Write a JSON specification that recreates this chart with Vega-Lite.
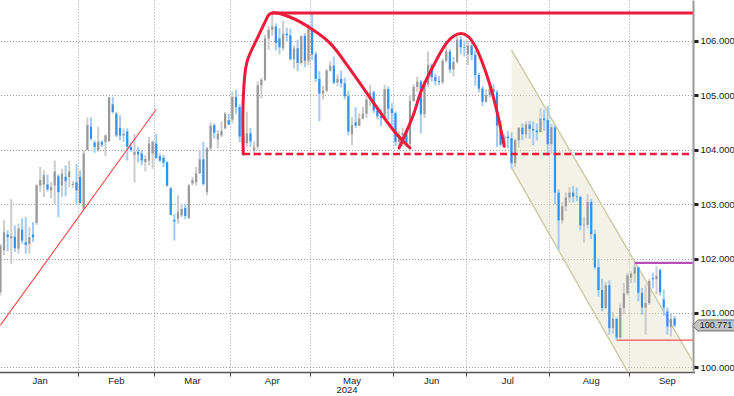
{
  "$schema": "https://vega.github.io/schema/vega-lite/v6.json",
  "width": 693,
  "height": 372,
  "padding": {"left": 0, "top": 0, "right": 41, "bottom": 24},
  "autosize": {"type": "none"},
  "background": "white",
  "config": {"view": {"stroke": null}, "font": "Liberation Sans"},
  "datasets": {
    "ohlc": [
      {"date":"2024-01-02","open":101.38,"high":102.27,"low":101.32,"close":102.24},
      {"date":"2024-01-03","open":102.15,"high":102.70,"low":102.06,"close":102.48},
      {"date":"2024-01-04","open":102.44,"high":102.52,"low":102.13,"close":102.39},
      {"date":"2024-01-05","open":102.37,"high":103.09,"low":101.90,"close":102.41},
      {"date":"2024-01-08","open":102.40,"high":102.61,"low":102.12,"close":102.19},
      {"date":"2024-01-09","open":102.18,"high":102.64,"low":102.09,"close":102.55},
      {"date":"2024-01-10","open":102.53,"high":102.74,"low":102.27,"close":102.33},
      {"date":"2024-01-11","open":102.30,"high":102.76,"low":102.09,"close":102.25},
      {"date":"2024-01-12","open":102.27,"high":102.58,"low":102.09,"close":102.39},
      {"date":"2024-01-15","open":102.44,"high":102.67,"low":102.30,"close":102.39},
      {"date":"2024-01-16","open":102.65,"high":103.37,"low":102.62,"close":103.34},
      {"date":"2024-01-17","open":103.34,"high":103.68,"low":103.22,"close":103.44},
      {"date":"2024-01-18","open":103.36,"high":103.62,"low":103.13,"close":103.53},
      {"date":"2024-01-19","open":103.36,"high":103.54,"low":103.23,"close":103.27},
      {"date":"2024-01-22","open":103.25,"high":103.40,"low":103.10,"close":103.31},
      {"date":"2024-01-23","open":103.34,"high":103.80,"low":102.99,"close":103.60},
      {"date":"2024-01-24","open":103.51,"high":103.55,"low":102.76,"close":103.22},
      {"date":"2024-01-25","open":103.34,"high":103.65,"low":103.13,"close":103.56},
      {"date":"2024-01-26","open":103.50,"high":103.71,"low":103.14,"close":103.42},
      {"date":"2024-01-29","open":103.50,"high":103.80,"low":103.31,"close":103.60},
      {"date":"2024-01-30","open":103.35,"high":103.42,"low":103.30,"close":103.37},
      {"date":"2024-01-31","open":103.40,"high":103.74,"low":102.98,"close":103.25},
      {"date":"2024-02-01","open":103.50,"high":103.62,"low":103.01,"close":103.02},
      {"date":"2024-02-02","open":102.91,"high":103.99,"low":102.90,"close":103.93},
      {"date":"2024-02-05","open":103.99,"high":104.59,"low":103.99,"close":104.45},
      {"date":"2024-02-06","open":104.42,"high":104.59,"low":104.17,"close":104.20},
      {"date":"2024-02-07","open":104.13,"high":104.17,"low":103.94,"close":104.05},
      {"date":"2024-02-08","open":103.99,"high":104.42,"low":103.96,"close":104.15},
      {"date":"2024-02-09","open":104.14,"high":104.17,"low":104.05,"close":104.09},
      {"date":"2024-02-12","open":104.14,"high":104.28,"low":103.88,"close":104.26},
      {"date":"2024-02-13","open":104.15,"high":104.97,"low":104.15,"close":104.96},
      {"date":"2024-02-14","open":104.83,"high":104.97,"low":104.66,"close":104.69},
      {"date":"2024-02-15","open":104.66,"high":104.69,"low":104.23,"close":104.26},
      {"date":"2024-02-16","open":104.40,"high":104.63,"low":104.17,"close":104.26},
      {"date":"2024-02-19","open":104.26,"high":104.39,"low":104.14,"close":104.29},
      {"date":"2024-02-20","open":104.33,"high":104.39,"low":103.80,"close":104.05},
      {"date":"2024-02-21","open":104.05,"high":104.14,"low":103.96,"close":103.99},
      {"date":"2024-02-22","open":103.90,"high":104.29,"low":103.40,"close":103.96},
      {"date":"2024-02-23","open":103.96,"high":104.05,"low":103.77,"close":103.91},
      {"date":"2024-02-26","open":103.93,"high":103.99,"low":103.71,"close":103.80},
      {"date":"2024-02-27","open":103.77,"high":103.90,"low":103.60,"close":103.83},
      {"date":"2024-02-28","open":103.80,"high":104.23,"low":103.71,"close":104.11},
      {"date":"2024-02-29","open":103.93,"high":104.17,"low":103.65,"close":104.14},
      {"date":"2024-03-01","open":104.11,"high":104.29,"low":103.83,"close":103.85},
      {"date":"2024-03-04","open":103.88,"high":103.93,"low":103.77,"close":103.80},
      {"date":"2024-03-05","open":103.85,"high":103.90,"low":103.68,"close":103.76},
      {"date":"2024-03-06","open":103.77,"high":103.78,"low":103.32,"close":103.34},
      {"date":"2024-03-07","open":103.29,"high":103.31,"low":102.79,"close":102.80},
      {"date":"2024-03-08","open":102.71,"high":102.82,"low":102.33,"close":102.68},
      {"date":"2024-03-11","open":102.73,"high":103.16,"low":102.64,"close":102.85},
      {"date":"2024-03-12","open":102.79,"high":103.01,"low":102.76,"close":102.91},
      {"date":"2024-03-13","open":102.93,"high":103.01,"low":102.72,"close":102.78},
      {"date":"2024-03-14","open":102.74,"high":103.37,"low":102.73,"close":103.34},
      {"date":"2024-03-15","open":103.38,"high":103.50,"low":103.34,"close":103.44},
      {"date":"2024-03-18","open":103.40,"high":103.68,"low":103.34,"close":103.56},
      {"date":"2024-03-19","open":103.56,"high":103.99,"low":103.56,"close":103.82},
      {"date":"2024-03-20","open":103.82,"high":104.14,"low":103.34,"close":103.37},
      {"date":"2024-03-21","open":103.22,"high":104.05,"low":103.16,"close":104.02},
      {"date":"2024-03-22","open":104.02,"high":104.50,"low":103.99,"close":104.44},
      {"date":"2024-03-25","open":104.45,"high":104.48,"low":104.20,"close":104.31},
      {"date":"2024-03-26","open":104.19,"high":104.36,"low":104.02,"close":104.29},
      {"date":"2024-03-27","open":104.26,"high":104.52,"low":104.23,"close":104.34},
      {"date":"2024-03-28","open":104.39,"high":104.69,"low":104.37,"close":104.66},
      {"date":"2024-03-29","open":104.54,"high":104.66,"low":104.45,"close":104.46},
      {"date":"2024-04-01","open":104.55,"high":105.07,"low":104.48,"close":104.97},
      {"date":"2024-04-02","open":104.97,"high":105.10,"low":104.65,"close":104.78},
      {"date":"2024-04-03","open":104.78,"high":104.83,"low":104.14,"close":104.24},
      {"date":"2024-04-04","open":104.24,"high":104.37,"low":103.89,"close":104.12},
      {"date":"2024-04-05","open":104.12,"high":104.69,"low":104.05,"close":104.30},
      {"date":"2024-04-08","open":104.30,"high":104.40,"low":104.05,"close":104.15},
      {"date":"2024-04-09","open":103.98,"high":104.15,"low":103.88,"close":104.04},
      {"date":"2024-04-10","open":104.05,"high":105.25,"low":104.00,"close":105.18},
      {"date":"2024-04-11","open":105.18,"high":105.32,"low":104.94,"close":105.28},
      {"date":"2024-04-12","open":105.28,"high":106.11,"low":105.26,"close":106.04},
      {"date":"2024-04-15","open":106.04,"high":106.27,"low":105.83,"close":106.20},
      {"date":"2024-04-16","open":106.20,"high":106.52,"low":106.09,"close":106.26},
      {"date":"2024-04-17","open":106.26,"high":106.32,"low":105.82,"close":105.96},
      {"date":"2024-04-18","open":106.04,"high":106.23,"low":105.75,"close":105.88},
      {"date":"2024-04-19","open":105.86,"high":106.37,"low":105.82,"close":106.13},
      {"date":"2024-04-22","open":106.13,"high":106.24,"low":105.98,"close":106.10},
      {"date":"2024-04-23","open":106.10,"high":106.22,"low":105.64,"close":105.66},
      {"date":"2024-04-24","open":105.66,"high":105.91,"low":105.49,"close":105.86},
      {"date":"2024-04-25","open":105.86,"high":106.02,"low":105.44,"close":105.59},
      {"date":"2024-04-26","open":105.59,"high":106.09,"low":105.56,"close":106.09},
      {"date":"2024-04-29","open":106.09,"high":106.14,"low":105.51,"close":105.63},
      {"date":"2024-04-30","open":105.63,"high":106.31,"low":105.55,"close":106.22},
      {"date":"2024-05-01","open":106.22,"high":106.49,"low":105.64,"close":105.75},
      {"date":"2024-05-02","open":105.75,"high":105.80,"low":105.24,"close":105.30},
      {"date":"2024-05-03","open":105.30,"high":105.44,"low":104.52,"close":105.03},
      {"date":"2024-05-06","open":105.03,"high":105.17,"low":104.92,"close":105.08},
      {"date":"2024-05-07","open":105.08,"high":105.48,"low":105.05,"close":105.45},
      {"date":"2024-05-08","open":105.45,"high":105.62,"low":105.43,"close":105.54},
      {"date":"2024-05-09","open":105.54,"high":105.71,"low":105.20,"close":105.23},
      {"date":"2024-05-10","open":105.23,"high":105.38,"low":105.16,"close":105.30},
      {"date":"2024-05-13","open":105.30,"high":105.45,"low":105.14,"close":105.22},
      {"date":"2024-05-14","open":105.22,"high":105.32,"low":104.92,"close":104.98},
      {"date":"2024-05-15","open":104.98,"high":105.08,"low":104.26,"close":104.33},
      {"date":"2024-05-16","open":104.28,"high":104.60,"low":104.08,"close":104.45},
      {"date":"2024-05-17","open":104.50,"high":104.78,"low":104.40,"close":104.44},
      {"date":"2024-05-20","open":104.44,"high":104.67,"low":104.43,"close":104.57},
      {"date":"2024-05-21","open":104.57,"high":104.79,"low":104.55,"close":104.66},
      {"date":"2024-05-22","open":104.66,"high":105.00,"low":104.58,"close":104.92},
      {"date":"2024-05-23","open":104.92,"high":105.19,"low":104.80,"close":105.05},
      {"date":"2024-05-24","open":105.05,"high":105.08,"low":104.67,"close":104.72},
      {"date":"2024-05-27","open":104.72,"high":104.79,"low":104.56,"close":104.61},
      {"date":"2024-05-28","open":104.61,"high":104.75,"low":104.43,"close":104.58},
      {"date":"2024-05-29","open":104.58,"high":105.19,"low":104.55,"close":105.11},
      {"date":"2024-05-30","open":105.11,"high":105.16,"low":104.55,"close":104.75},
      {"date":"2024-05-31","open":104.75,"high":104.85,"low":104.40,"close":104.67},
      {"date":"2024-06-03","open":104.67,"high":104.70,"low":104.06,"close":104.14},
      {"date":"2024-06-04","open":104.14,"high":104.33,"low":103.99,"close":104.26},
      {"date":"2024-06-05","open":104.26,"high":104.40,"low":104.05,"close":104.30},
      {"date":"2024-06-06","open":104.30,"high":104.35,"low":104.05,"close":104.10},
      {"date":"2024-06-07","open":104.10,"high":105.00,"low":104.03,"close":104.89},
      {"date":"2024-06-10","open":104.89,"high":105.20,"low":104.88,"close":105.15},
      {"date":"2024-06-11","open":105.15,"high":105.34,"low":105.06,"close":105.25},
      {"date":"2024-06-12","open":105.25,"high":105.28,"low":104.30,"close":104.65},
      {"date":"2024-06-13","open":104.65,"high":105.25,"low":104.58,"close":105.20},
      {"date":"2024-06-14","open":105.20,"high":105.80,"low":105.15,"close":105.55},
      {"date":"2024-06-17","open":105.55,"high":105.58,"low":105.25,"close":105.33},
      {"date":"2024-06-18","open":105.33,"high":105.40,"low":105.18,"close":105.26},
      {"date":"2024-06-19","open":105.26,"high":105.35,"low":105.18,"close":105.24},
      {"date":"2024-06-20","open":105.24,"high":105.67,"low":105.20,"close":105.63},
      {"date":"2024-06-21","open":105.63,"high":105.91,"low":105.60,"close":105.80},
      {"date":"2024-06-24","open":105.80,"high":105.85,"low":105.41,"close":105.47},
      {"date":"2024-06-25","open":105.47,"high":105.70,"low":105.35,"close":105.61},
      {"date":"2024-06-26","open":105.61,"high":106.13,"low":105.58,"close":106.02},
      {"date":"2024-06-27","open":106.02,"high":106.08,"low":105.75,"close":105.88},
      {"date":"2024-06-28","open":105.88,"high":106.00,"low":105.71,"close":105.87},
      {"date":"2024-07-01","open":105.75,"high":106.00,"low":105.55,"close":105.91},
      {"date":"2024-07-02","open":105.91,"high":106.00,"low":105.64,"close":105.74},
      {"date":"2024-07-03","open":105.74,"high":105.82,"low":105.17,"close":105.37},
      {"date":"2024-07-04","open":105.37,"high":105.41,"low":105.05,"close":105.12},
      {"date":"2024-07-05","open":105.12,"high":105.17,"low":104.80,"close":104.88},
      {"date":"2024-07-08","open":104.88,"high":105.11,"low":104.86,"close":105.00},
      {"date":"2024-07-09","open":105.00,"high":105.19,"low":104.95,"close":105.11},
      {"date":"2024-07-10","open":105.11,"high":105.20,"low":104.99,"close":105.05},
      {"date":"2024-07-11","open":105.05,"high":105.09,"low":104.05,"close":104.44},
      {"date":"2024-07-12","open":104.44,"high":104.55,"low":104.06,"close":104.09},
      {"date":"2024-07-15","open":104.09,"high":104.29,"low":104.06,"close":104.24},
      {"date":"2024-07-16","open":104.24,"high":104.34,"low":104.02,"close":104.21},
      {"date":"2024-07-17","open":104.21,"high":104.32,"low":103.65,"close":103.75},
      {"date":"2024-07-18","open":103.75,"high":104.20,"low":103.68,"close":104.17},
      {"date":"2024-07-19","open":104.17,"high":104.41,"low":104.04,"close":104.40},
      {"date":"2024-07-22","open":104.40,"high":104.48,"low":104.17,"close":104.28},
      {"date":"2024-07-23","open":104.28,"high":104.52,"low":104.21,"close":104.46},
      {"date":"2024-07-24","open":104.46,"high":104.53,"low":104.20,"close":104.38},
      {"date":"2024-07-25","open":104.38,"high":104.52,"low":104.08,"close":104.35},
      {"date":"2024-07-26","open":104.35,"high":104.48,"low":104.17,"close":104.32},
      {"date":"2024-07-29","open":104.32,"high":104.76,"low":104.32,"close":104.57},
      {"date":"2024-07-30","open":104.57,"high":104.73,"low":104.34,"close":104.54},
      {"date":"2024-07-31","open":104.54,"high":104.80,"low":103.88,"close":104.10},
      {"date":"2024-08-01","open":104.10,"high":104.47,"low":103.92,"close":104.41},
      {"date":"2024-08-02","open":104.41,"high":104.45,"low":103.00,"close":103.21},
      {"date":"2024-08-05","open":103.21,"high":103.27,"low":102.16,"close":102.70},
      {"date":"2024-08-06","open":102.70,"high":103.04,"low":102.64,"close":102.96},
      {"date":"2024-08-07","open":102.96,"high":103.21,"low":102.87,"close":103.12},
      {"date":"2024-08-08","open":103.12,"high":103.31,"low":103.03,"close":103.21},
      {"date":"2024-08-09","open":103.21,"high":103.33,"low":103.03,"close":103.14},
      {"date":"2024-08-12","open":103.14,"high":103.30,"low":103.05,"close":103.13},
      {"date":"2024-08-13","open":103.13,"high":103.15,"low":102.52,"close":102.61},
      {"date":"2024-08-14","open":102.61,"high":102.77,"low":102.29,"close":102.62},
      {"date":"2024-08-15","open":102.62,"high":103.18,"low":102.55,"close":103.04},
      {"date":"2024-08-16","open":103.04,"high":103.10,"low":102.36,"close":102.45},
      {"date":"2024-08-19","open":102.45,"high":102.53,"low":101.80,"close":101.84},
      {"date":"2024-08-20","open":101.84,"high":102.00,"low":101.30,"close":101.42},
      {"date":"2024-08-21","open":101.42,"high":101.63,"low":101.03,"close":101.09},
      {"date":"2024-08-22","open":101.09,"high":101.57,"low":101.07,"close":101.51},
      {"date":"2024-08-23","open":101.51,"high":101.60,"low":100.60,"close":100.72},
      {"date":"2024-08-26","open":100.72,"high":101.02,"low":100.62,"close":100.89},
      {"date":"2024-08-27","open":100.89,"high":100.92,"low":100.51,"close":100.55},
      {"date":"2024-08-28","open":100.55,"high":101.17,"low":100.53,"close":101.09},
      {"date":"2024-08-29","open":101.09,"high":101.55,"low":100.98,"close":101.36},
      {"date":"2024-08-30","open":101.36,"high":101.74,"low":101.32,"close":101.69},
      {"date":"2024-09-02","open":101.65,"high":101.76,"low":101.55,"close":101.72},
      {"date":"2024-09-03","open":101.72,"high":101.92,"low":101.56,"close":101.84},
      {"date":"2024-09-04","open":101.84,"high":101.85,"low":101.21,"close":101.37},
      {"date":"2024-09-05","open":101.37,"high":101.46,"low":100.97,"close":101.10},
      {"date":"2024-09-06","open":101.10,"high":101.52,"low":100.60,"close":101.18},
      {"date":"2024-09-09","open":101.18,"high":101.62,"low":101.15,"close":101.59},
      {"date":"2024-09-10","open":101.64,"high":101.74,"low":101.45,"close":101.62},
      {"date":"2024-09-11","open":101.62,"high":101.86,"low":101.34,"close":101.68},
      {"date":"2024-09-12","open":101.79,"high":101.81,"low":101.32,"close":101.38},
      {"date":"2024-09-13","open":101.25,"high":101.43,"low":100.95,"close":101.10},
      {"date":"2024-09-16","open":101.03,"high":101.10,"low":100.60,"close":100.75},
      {"date":"2024-09-17","open":100.75,"high":101.00,"low":100.57,"close":100.89},
      {"date":"2024-09-18","open":100.90,"high":100.95,"low":100.74,"close":100.771}
    ],
    "channel": [
      {"date":"2024-07-17","hi":105.83,"lo":103.67},
      {"date":"2024-09-25","hi":100.11,"lo":97.82}
    ],
    "trend": [
      {"date":"2024-01-02","value":100.774},
      {"date":"2024-03-01","value":104.74}
    ],
    "hlines": [
      {"id":"top","date":"2024-04-16","value":106.51},
      {"id":"top","date":"2024-09-25","value":106.51},
      {"id":"dash","date":"2024-04-04","value":103.92},
      {"id":"dash","date":"2024-09-24","value":103.92},
      {"id":"purple","date":"2024-09-03","value":101.92},
      {"id":"purple","date":"2024-09-25","value":101.92},
      {"id":"low","date":"2024-08-27","value":100.50},
      {"id":"low","date":"2024-09-25","value":100.50}
    ],
    "cup": [
      {"date":"2024-04-04","value":103.92},
      {"date":"2024-04-04","value":104.91},
      {"date":"2024-04-05","value":105.60},
      {"date":"2024-04-10","value":106.06},
      {"date":"2024-04-12","value":106.34},
      {"date":"2024-04-15","value":106.47},
      {"date":"2024-04-16","value":106.51},
      {"date":"2024-04-23","value":106.43},
      {"date":"2024-05-01","value":106.21},
      {"date":"2024-05-08","value":105.95},
      {"date":"2024-05-15","value":105.52},
      {"date":"2024-05-23","value":104.95},
      {"date":"2024-06-03","value":104.31},
      {"date":"2024-06-07","value":104.03}
    ],
    "arc2": [
      {"date":"2024-06-04","value":104.03},
      {"date":"2024-06-10","value":104.65},
      {"date":"2024-06-12","value":105.06},
      {"date":"2024-06-17","value":105.48},
      {"date":"2024-06-21","value":105.95},
      {"date":"2024-06-25","value":106.08},
      {"date":"2024-06-27","value":106.13},
      {"date":"2024-07-01","value":106.08},
      {"date":"2024-07-03","value":105.90},
      {"date":"2024-07-05","value":105.59},
      {"date":"2024-07-09","value":105.20},
      {"date":"2024-07-11","value":104.70},
      {"date":"2024-07-15","value":104.06}
    ],
    "last": [
      {"date":"2024-09-25","value":100.771,"label":"100.771"}
    ]
  },
  "encoding": {
    "x": {
      "field": "date",
      "type": "ordinal",
      "scale": {
        "type": "band",
        "paddingInner": 0,
        "paddingOuter": 0,
        "range": [-1.45, 694.55],
        "domain": [
          "2024-01-02","2024-01-03","2024-01-04","2024-01-05","2024-01-08","2024-01-09","2024-01-10","2024-01-11","2024-01-12","2024-01-15","2024-01-16","2024-01-17","2024-01-18","2024-01-19","2024-01-22","2024-01-23","2024-01-24","2024-01-25","2024-01-26","2024-01-29","2024-01-30","2024-01-31",
          "2024-02-01","2024-02-02","2024-02-05","2024-02-06","2024-02-07","2024-02-08","2024-02-09","2024-02-12","2024-02-13","2024-02-14","2024-02-15","2024-02-16","2024-02-19","2024-02-20","2024-02-21","2024-02-22","2024-02-23","2024-02-26","2024-02-27","2024-02-28","2024-02-29",
          "2024-03-01","2024-03-04","2024-03-05","2024-03-06","2024-03-07","2024-03-08","2024-03-11","2024-03-12","2024-03-13","2024-03-14","2024-03-15","2024-03-18","2024-03-19","2024-03-20","2024-03-21","2024-03-22","2024-03-25","2024-03-26","2024-03-27","2024-03-28","2024-03-29",
          "2024-04-01","2024-04-02","2024-04-03","2024-04-04","2024-04-05","2024-04-08","2024-04-09","2024-04-10","2024-04-11","2024-04-12","2024-04-15","2024-04-16","2024-04-17","2024-04-18","2024-04-19","2024-04-22","2024-04-23","2024-04-24","2024-04-25","2024-04-26","2024-04-29","2024-04-30",
          "2024-05-01","2024-05-02","2024-05-03","2024-05-06","2024-05-07","2024-05-08","2024-05-09","2024-05-10","2024-05-13","2024-05-14","2024-05-15","2024-05-16","2024-05-17","2024-05-20","2024-05-21","2024-05-22","2024-05-23","2024-05-24","2024-05-27","2024-05-28","2024-05-29","2024-05-30","2024-05-31",
          "2024-06-03","2024-06-04","2024-06-05","2024-06-06","2024-06-07","2024-06-10","2024-06-11","2024-06-12","2024-06-13","2024-06-14","2024-06-17","2024-06-18","2024-06-19","2024-06-20","2024-06-21","2024-06-24","2024-06-25","2024-06-26","2024-06-27","2024-06-28",
          "2024-07-01","2024-07-02","2024-07-03","2024-07-04","2024-07-05","2024-07-08","2024-07-09","2024-07-10","2024-07-11","2024-07-12","2024-07-15","2024-07-16","2024-07-17","2024-07-18","2024-07-19","2024-07-22","2024-07-23","2024-07-24","2024-07-25","2024-07-26","2024-07-29","2024-07-30","2024-07-31",
          "2024-08-01","2024-08-02","2024-08-05","2024-08-06","2024-08-07","2024-08-08","2024-08-09","2024-08-12","2024-08-13","2024-08-14","2024-08-15","2024-08-16","2024-08-19","2024-08-20","2024-08-21","2024-08-22","2024-08-23","2024-08-26","2024-08-27","2024-08-28","2024-08-29","2024-08-30",
          "2024-09-02","2024-09-03","2024-09-04","2024-09-05","2024-09-06","2024-09-09","2024-09-10","2024-09-11","2024-09-12","2024-09-13","2024-09-16","2024-09-17","2024-09-18","2024-09-19","2024-09-20","2024-09-23","2024-09-24","2024-09-25"
        ]
      },
      "axis": {
        "values": ["2024-02-01","2024-03-01","2024-04-01","2024-05-01","2024-06-03","2024-07-01","2024-08-01","2024-09-02","2024-01-17","2024-02-15","2024-03-15","2024-04-16","2024-05-16","2024-06-17","2024-07-16","2024-08-16","2024-09-16"],
        "bandPosition": 0,
        "labelExpr": "indexof(['2024-02-01','2024-03-01','2024-04-01','2024-05-01','2024-06-03','2024-07-01','2024-08-01','2024-09-02'], datum.value) >= 0 ? '' : utcFormat(toDate(datum.value), '%b')",
        "labelAngle": 0,
        "labelOverlap": false,
        "labelFontSize": 9.5,
        "labelColor": "#222222",
        "labelPadding": -1,
        "grid": true,
        "gridDash": [1, 2],
        "gridColor": "#9a9a9a",
        "gridOpacity": {"condition": {"test": "indexof(['2024-02-01','2024-03-01','2024-04-01','2024-05-01','2024-06-03','2024-07-01','2024-08-01','2024-09-02'], datum.value) >= 0", "value": 1}, "value": 0},
        "ticks": true,
        "tickSize": 4,
        "tickColor": "#444444",
        "tickOpacity": {"condition": {"test": "indexof(['2024-02-01','2024-03-01','2024-04-01','2024-05-01','2024-06-03','2024-07-01','2024-08-01','2024-09-02'], datum.value) >= 0", "value": 1}, "value": 0},
        "domainColor": "#555555",
        "domainWidth": 1.5,
        "title": "2024",
        "titleFontSize": 9.5,
        "titleFontWeight": "normal",
        "titleColor": "#222222",
        "titlePadding": 0
      }
    }
  },
  "layer": [
    {
      "data": {"name": "channel"},
      "mark": {"type": "area", "color": "#e3e3c8", "opacity": 0.45, "clip": true},
      "encoding": {
        "y": {
          "field": "hi", "type": "quantitative",
          "scale": {"domain": [99.916, 106.747], "nice": false, "zero": false},
          "axis": {
            "orient": "right",
            "title": null,
            "values": [100, 100.5, 101, 101.5, 102, 102.5, 103, 103.5, 104, 104.5, 105, 105.5, 106, 106.5],
            "labelExpr": "datum.value % 1 === 0 ? format(datum.value, '.3f') : ''",
            "labelOverlap": false,
            "labelFontSize": 9.5,
            "labelColor": "#222222",
            "labelPadding": 2,
            "grid": true,
            "gridDash": [1, 2],
            "gridColor": "#9a9a9a",
            "gridOpacity": {"condition": {"test": "datum.value % 1 === 0", "value": 1}, "value": 0},
            "tickSize": 5,
            "tickColor": "#222222",
            "tickWidth": {"condition": {"test": "datum.value % 1 === 0", "value": 3}, "value": 1},
            "domainColor": "#9a9a9a",
            "domainWidth": 2
          }
        },
        "y2": {"field": "lo"}
      }
    },
    {
      "data": {"name": "channel"},
      "mark": {"type": "line", "color": "#c8c8a0", "strokeWidth": 1.3, "clip": true},
      "encoding": {
        "y": {"field": "hi", "type": "quantitative"}
      }
    },
    {
      "data": {"name": "channel"},
      "mark": {"type": "line", "color": "#c8c8a0", "strokeWidth": 1.3, "clip": true},
      "encoding": {
        "y": {"field": "lo", "type": "quantitative"}
      }
    },
    {
      "data": {"name": "ohlc"},
      "mark": {"type": "rule", "strokeWidth": 2},
      "encoding": {
        "y": {"field": "low", "type": "quantitative"},
        "y2": {"field": "high"},
        "color": {"condition": {"test": "datum.close >= datum.open", "value": "#cdcdcd"}, "value": "#a3cbf5"}
      }
    },
    {
      "data": {"name": "ohlc"},
      "mark": {"type": "bar", "width": {"band": 0.6}},
      "encoding": {
        "y": {"field": "open", "type": "quantitative"},
        "y2": {"field": "close"},
        "color": {"condition": {"test": "datum.close >= datum.open", "value": "#999999"}, "value": "#3391f0"}
      }
    },
    {
      "data": {"name": "trend"},
      "mark": {"type": "line", "color": "#ff4545", "strokeWidth": 1.1, "clip": true},
      "encoding": {
        "y": {"field": "value", "type": "quantitative"}
      }
    },
    {
      "data": {"name": "hlines"},
      "transform": [{"filter": "datum.id === 'dash'"}],
      "mark": {"type": "line", "color": "#ec1b3b", "strokeWidth": 2.6, "strokeDash": [7, 3.7]},
      "encoding": {
        "y": {"field": "value", "type": "quantitative"}
      }
    },
    {
      "data": {"name": "hlines"},
      "transform": [{"filter": "datum.id === 'top'"}],
      "mark": {"type": "line", "color": "#ec1b3b", "strokeWidth": 3},
      "encoding": {
        "y": {"field": "value", "type": "quantitative"}
      }
    },
    {
      "data": {"name": "hlines"},
      "transform": [{"filter": "datum.id === 'purple'"}],
      "mark": {"type": "line", "color": "#b84fb8", "strokeWidth": 2.4},
      "encoding": {
        "y": {"field": "value", "type": "quantitative"}
      }
    },
    {
      "data": {"name": "hlines"},
      "transform": [{"filter": "datum.id === 'low'"}],
      "mark": {"type": "line", "color": "#ff5050", "strokeWidth": 1.3},
      "encoding": {
        "y": {"field": "value", "type": "quantitative"}
      }
    },
    {
      "data": {"name": "cup"},
      "mark": {"type": "line", "color": "#ec1b3b", "strokeWidth": 3, "interpolate": "catmull-rom", "strokeCap": "round"},
      "encoding": {
        "y": {"field": "value", "type": "quantitative"},
        "order": {"value": null}
      }
    },
    {
      "data": {"name": "arc2"},
      "mark": {"type": "line", "color": "#ec1b3b", "strokeWidth": 3, "interpolate": "catmull-rom", "strokeCap": "round"},
      "encoding": {
        "y": {"field": "value", "type": "quantitative"},
        "order": {"value": null}
      }
    },
    {
      "data": {"name": "last"},
      "mark": {"type": "point", "shape": "M0,0 L0.45,-0.5 L3.8,-0.5 L3.8,0.5 L0.45,0.5 Z", "size": 484, "filled": true, "color": "#c4c4c4", "stroke": "#6e6e6e", "strokeWidth": 1, "opacity": 1},
      "encoding": {
        "y": {"field": "value", "type": "quantitative"}
      }
    },
    {
      "data": {"name": "last"},
      "mark": {"type": "text", "align": "left", "baseline": "middle", "dx": 7, "fontSize": 9, "color": "#111111"},
      "encoding": {
        "y": {"field": "value", "type": "quantitative"},
        "text": {"field": "label"}
      }
    }
  ]
}
